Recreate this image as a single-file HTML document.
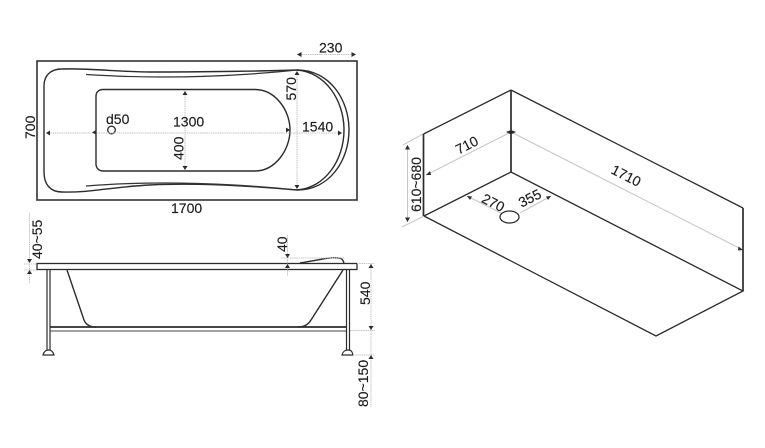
<!DOCTYPE html>
<html><head><meta charset="utf-8"><style>
html,body{margin:0;padding:0;background:#fff}
svg{display:block}
text{font-family:"Liberation Sans",Arial,sans-serif;font-size:14px;fill:#1c1c1c;stroke:#1c1c1c;stroke-width:.15px}
.d{stroke:#c4c4c4;stroke-width:1;fill:none;stroke-dasharray:1.5 .7}
.s{stroke:#c8c8c8;stroke-width:1.1;fill:none}
.k{stroke:#2c2c2c;stroke-width:1.4;fill:none}
.a{fill:#2c2c2c;stroke:none}
</style></head><body>
<svg width="765" height="448" viewBox="0 0 765 448" xmlns="http://www.w3.org/2000/svg">
<!-- top view -->
<rect x="37" y="61" width="320" height="139" fill="none" stroke="#333" stroke-width="1.600"/>
<path class="k" d="M297 70C270 71 200 72 150 72C120 72 90 68 62 69C50 69 44 76 44 86L44 172C44 184 50 192 62 192C90 193 110 187 150 185C190 183 240 185 297 190"/>
<path class="k" d="M297 70C330 70 349 100 349 130C349 160 330 190 297 190"/>
<path class="k" d="M297 70C325 72 344 100 344 130C344 160 325 188 297 190"/>
<path d="M86 74.500C110 76 130 77 160 77C200 77 250 75 297 70" fill="none" stroke="#333" stroke-width="1.200"/>
<path d="M86 186C110 184 130 183 165 183C210 183 260 186 297 190" fill="none" stroke="#333" stroke-width="1.200"/>
<path class="k" d="M103 89.500L255 89.500C275 89.500 290 110 290 130C290 150 275 171 255 171L103 171C99 171 96 168 96 164L96 96C96 92 99 89.500 103 89.500Z"/>
<circle cx="111.500" cy="130" r="3.800" fill="#fff" stroke="#2c2c2c" stroke-width="1.300"/>
<path class="d" d="M46 133H342M185 90V170M297 72V188"/>
<path class="a" d="M46 133l4-2.500v5zM96 130l-4 2.500 4 2 0-4.500zM290 130l-4-2.500v5zM342 133l-4-2.500v5zM185 91l-2.500 4h5zM185 170l-2.500-4h5zM297 71l-2.500 4h5zM297 189l-2.500-4h5z"/>
<path class="d" d="M297 54.500H356"/>
<path class="a" d="M297 54.500l4.500-2.500v5zM356 54.500l-4.500-2.500v5z"/>
<text x="106" y="124">d50</text>
<text x="173" y="126.500">1300</text>
<text x="302" y="131.500">1540</text>
<text x="319" y="52.500">230</text>
<text x="171" y="213">1700</text>
<text transform="translate(35 139) rotate(-90)">700</text>
<text transform="translate(183.500 160) rotate(-90)">400</text>
<text transform="translate(296 100.500) rotate(-90)">570</text>
<!-- side view -->
<rect x="37" y="263.500" width="320" height="6" fill="#fff" stroke="#2c2c2c" stroke-width="1.300"/>
<path d="M47 270V350M50 270V350M346.500 270V350M349.500 270V350" stroke="#2c2c2c" stroke-width="1.200" fill="none"/>
<path d="M43 355C44 351 46 350 48.500 350C51 350 53 351 54 355Z" fill="#fff" stroke="#2c2c2c" stroke-width="1.200"/>
<path d="M342 355C343 351 345 350 348 350C351 350 352 351 353 355Z" fill="#fff" stroke="#2c2c2c" stroke-width="1.200"/>
<path d="M50 327H346" stroke="#2c2c2c" stroke-width="1.800"/>
<path d="M50 331H346" stroke="#444" stroke-width="1"/>
<path class="k" d="M67 270L84 320C86 325 90 327 96 327"/>
<path class="k" d="M343 270L311 320C308 325 304 327 298 327"/>
<path class="k" d="M300 263C320 260 328 257 338 258C342 258 343 260 344 263"/>
<path class="d" d="M281 258H345M287.500 235V276M29.500 213V283M24 264H37M24 270H37M357 263.500H375M350 330.500H375M353 355H375M371 263V407"/>
<path class="a" d="M287.500 258l-2.500-4h5zM287.500 264l-2.500 4h5zM29.500 263l-2.500-4h5zM29.500 270l-2.500 4h5zM371 264l-2.500 4h5zM371 330l-2.500-4h5zM371 355l-2.500 4h5z"/>
<text transform="translate(287 252) rotate(-90)">40</text>
<text transform="translate(42 259) rotate(-90)">40~55</text>
<text transform="translate(370 305) rotate(-90)">540</text>
<text transform="translate(368 407) rotate(-90)">80~150</text>
<!-- box -->
<path class="s" d="M426 175L511 132L743 250M423 134L403 145M424 216L402 227M407.500 145V222M467 196L507 216M520 213L551 196"/>
<path d="M511 90L423.500 134M424 216L511 172L743 291L656 336L424 216M511 90L743 208" fill="none" stroke="#2c2c2c" stroke-width="1.300"/>
<path d="M423.500 134V216M743 208V291M511 90V172" fill="none" stroke="#2c2c2c" stroke-width="1.700"/>
<path class="a" d="M426 175l4-4 1 4zM506 132l5 2.500V130zM516 132l-5 2.500V130zM743 250l-4.500-3.500-.5 4zM407.500 145l-2.500 4.500h5zM407.500 222l-2.500-4.500h5zM467 196l3 4 2-3.500zM551 196l-5 .5 2 3.500z"/>
<ellipse cx="509.500" cy="217" rx="9.500" ry="6" fill="#fff" stroke="#2c2c2c" stroke-width="1.300"/>
<text text-anchor="middle" transform="translate(469 149.500) rotate(-27)">710</text>
<text text-anchor="middle" transform="translate(624 180) rotate(27)">1710</text>
<text text-anchor="middle" transform="translate(491 207) rotate(27)">270</text>
<text text-anchor="middle" transform="translate(532 202.500) rotate(-27)">355</text>
<text transform="translate(421 212) rotate(-90)">610~680</text>
</svg>
</body></html>
